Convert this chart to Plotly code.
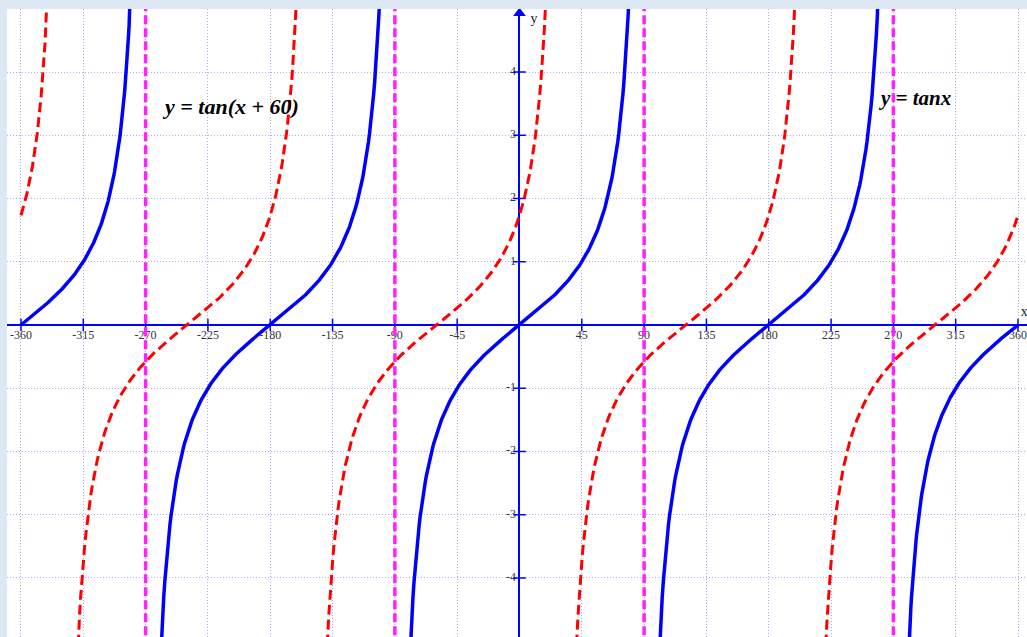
import numpy as np
import plotly.graph_objects as go

# Axis ticks (degrees on x, units on y)
x_ticks = [-360, -315, -270, -225, -180, -135, -90, -45, 45, 90, 135, 180, 225, 270, 315, 360]
y_ticks = [-4, -3, -2, -1, 1, 2, 3, 4]

# Vertical asymptotes of y = tan x inside the window
asymptotes = [-270, -90, 90, 270]

# Phase shift of the second curve: y = tan(x + 60)
shift = 60

x_min, x_max = -360, 360
y_lo, y_hi = -4.933, 4.996


def tan_branches(phase):
    """Sample y = tan(x + phase) on [-360, 360], broken at each asymptote."""
    cuts = [a - phase for a in range(-450, 451, 180)]
    cuts = [c for c in cuts if x_min < c < x_max]
    edges = [x_min] + cuts + [x_max]
    xs, ys = [], []
    for a, b in zip(edges[:-1], edges[1:]):
        lo = a + (0.3 if a in cuts else 0)
        hi = b - (0.3 if b in cuts else 0)
        seg = np.linspace(lo, hi, 240)
        xs.extend(seg.tolist())
        ys.extend(np.tan(np.radians(seg + phase)).tolist())
        xs.append(None)
        ys.append(None)
    return xs, ys


fig = go.Figure()

# Tick labels along the axes
fig.add_trace(go.Scatter(
    x=x_ticks, y=[-0.17] * len(x_ticks), mode="text",
    text=[str(v) for v in x_ticks], textposition="middle center",
    textfont=dict(family="Liberation Serif", size=12, color="#333333"),
    hoverinfo="skip", showlegend=False))
fig.add_trace(go.Scatter(
    x=[-2.5] * len(y_ticks), y=y_ticks, mode="text",
    text=[str(v) for v in y_ticks], textposition="middle left",
    textfont=dict(family="Liberation Serif", size=12, color="#333333"),
    hoverinfo="skip", showlegend=False))

# Tick marks crossing the axes
fig.add_trace(go.Scatter(
    x=x_ticks, y=[0] * len(x_ticks), mode="markers",
    marker=dict(symbol="line-ns", size=9, line=dict(color="#0000ff", width=1.5)),
    hoverinfo="skip", showlegend=False))
fig.add_trace(go.Scatter(
    x=[0] * len(y_ticks), y=y_ticks, mode="markers",
    marker=dict(symbol="line-ew", size=9, line=dict(color="#0000ff", width=1.5)),
    hoverinfo="skip", showlegend=False))

# Asymptotes of tan x
for a in asymptotes:
    fig.add_trace(go.Scatter(
        x=[a, a], y=[y_lo - 1, y_hi + 1], mode="lines",
        line=dict(color="#ff22ff", width=3.5, dash="9px,4px"),
        hoverinfo="skip", showlegend=False))

# y = tan(x + 60)
xs, ys = tan_branches(shift)
fig.add_trace(go.Scatter(
    x=xs, y=ys, mode="lines", connectgaps=False,
    line=dict(color="#ff0000", width=3, dash="10px,5px"),
    hoverinfo="skip", showlegend=False))

# y = tan x
xs, ys = tan_branches(0)
fig.add_trace(go.Scatter(
    x=xs, y=ys, mode="lines", connectgaps=False,
    line=dict(color="#0000ff", width=3.5),
    hoverinfo="skip", showlegend=False))

# Arrow head on the y axis and axis names
fig.add_trace(go.Scatter(
    x=[0], y=[4.93], mode="markers",
    marker=dict(symbol="triangle-up", size=11, color="#0000ff"),
    hoverinfo="skip", showlegend=False))
fig.add_trace(go.Scatter(
    x=[10.5, 364.5], y=[4.83, 0.2], mode="text", text=["y", "x"],
    textposition="middle center",
    textfont=dict(family="Liberation Serif", size=14, color="#222222"),
    hoverinfo="skip", showlegend=False))

label_font = dict(family="Liberation Serif", size=22, color="#000000")
fig.add_annotation(x=-208.5, y=3.45, xref="x", yref="y", showarrow=False,
                   text="<b><i>y = tan(x + 60)</i></b>", font=label_font)
fig.add_annotation(x=285.5, y=3.59, xref="x", yref="y", showarrow=False,
                   text="<b><i>y = tanx</i></b>", font=dict(label_font, size=21))

grid = dict(showgrid=True, gridcolor="#a9a9f4", gridwidth=1, griddash="1px,2px",
            showticklabels=False, ticks="", showline=False,
            zeroline=True, zerolinecolor="#0000ff", zerolinewidth=2)

fig.update_layout(
    width=1027, height=637,
    margin=dict(l=7, r=0, t=9, b=0, pad=0),
    paper_bgcolor="#dde8f4", plot_bgcolor="#ffffff",
    xaxis=dict(range=[-370.1, 366.5], tickvals=list(range(-360, 361, 45)), **grid),
    yaxis=dict(range=[y_lo, y_hi], tickvals=list(range(-4, 5)), **grid),
    showlegend=False,
)

fig.write_html("out.html")
